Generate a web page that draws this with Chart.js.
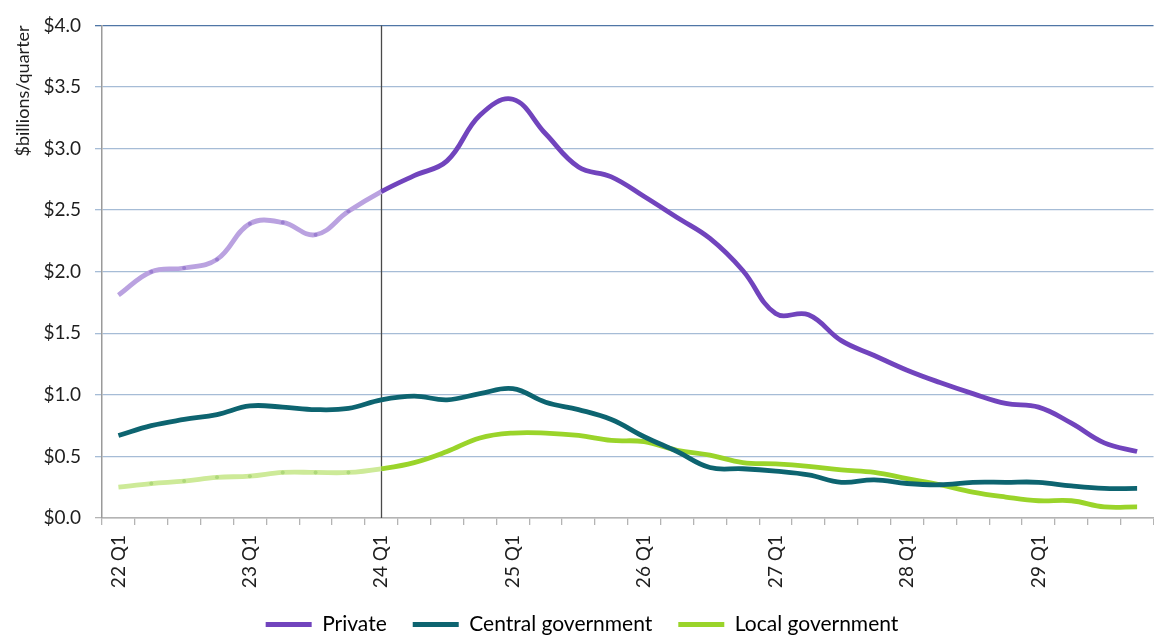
<!DOCTYPE html>
<html>
<head>
<meta charset="utf-8">
<title>Capital expenditure by sector</title>
<script src="https://cdn.jsdelivr.net/npm/chart.js@4.4.0/dist/chart.umd.min.js"></script>
<style>
  html, body { margin: 0; padding: 0; overflow: hidden; background: #fff; }
  #wrap { width: 1170px; height: 645px; }
</style>
</head>
<body>
<div id="wrap"><canvas id="capexChart"></canvas></div>
<script>
// quarterly series, $ billions per quarter
const quarters = [
  '22 Q1','22 Q2','22 Q3','22 Q4','23 Q1','23 Q2','23 Q3','23 Q4',
  '24 Q1','24 Q2','24 Q3','24 Q4','25 Q1','25 Q2','25 Q3','25 Q4',
  '26 Q1','26 Q2','26 Q3','26 Q4','27 Q1','27 Q2','27 Q3','27 Q4',
  '28 Q1','28 Q2','28 Q3','28 Q4','29 Q1','29 Q2','29 Q3','29 Q4'
];
const privateSpend = [1.81,2.00,2.03,2.10,2.39,2.40,2.30,2.49,2.65,2.78,2.90,3.27,3.40,3.12,2.85,2.77,
                      2.61,2.44,2.27,2.01,1.66,1.65,1.44,1.32,1.20,1.10,1.01,0.93,0.90,0.77,0.61,0.54];
const centralGov   = [0.67,0.75,0.80,0.84,0.91,0.90,0.88,0.89,0.96,0.99,0.96,1.01,1.05,0.94,0.88,0.80,
                      0.66,0.54,0.41,0.40,0.38,0.35,0.29,0.31,0.28,0.27,0.29,0.29,0.29,0.26,0.24,0.24];
const localGov     = [0.25,0.28,0.30,0.33,0.34,0.37,0.37,0.37,0.40,0.45,0.54,0.65,0.69,0.69,0.67,0.63,
                      0.62,0.55,0.51,0.45,0.44,0.42,0.39,0.37,0.32,0.27,0.21,0.17,0.14,0.14,0.09,0.09];
const yTicks = [0, 0.5, 1, 1.5, 2, 2.5, 3, 3.5, 4];

// history/forecast split at 24 Q1
const splitIndex = 8;
const FONT = 'Lato, "Open Sans", sans-serif';
const TEXT = '#1e1e1e';

function lineSet(label, data, color, fadedColor, dotColor) {
  return {
    label: label,
    data: data,
    borderColor: color,
    backgroundColor: color,
    borderWidth: 4.8,
    tension: 0.4,
    pointRadius: data.map((v, i) => (fadedColor && i > 0 && i < splitIndex) ? 2 : 0),
    pointBackgroundColor: dotColor || color,
    pointBorderWidth: 0,
    segment: {
      borderColor: ctx => (fadedColor && ctx.p1DataIndex <= splitIndex) ? fadedColor : undefined
    }
  };
}

// thin vertical marker at the start of the forecast period
const markerLine = {
  id: 'markerLine',
  beforeDatasetsDraw(chart) {
    const {ctx, chartArea, scales} = chart;
    const x = Math.round(scales.x.getPixelForValue(splitIndex)) + 0.5;
    ctx.save();
    ctx.strokeStyle = '#4a4a4a';
    ctx.lineWidth = 1.3;
    ctx.beginPath();
    ctx.moveTo(x, chartArea.top);
    ctx.lineTo(x, chartArea.bottom);
    ctx.stroke();
    ctx.restore();
  }
};

new Chart(document.getElementById('capexChart'), {
  type: 'line',
  data: {
    labels: quarters,
    datasets: [
      lineSet('Private', privateSpend, '#7144bd', '#baa2e0', '#9b7fd0'),
      lineSet('Central government', centralGov, '#0d6470'),
      lineSet('Local government', localGov, '#9ad42a', '#cdea98', '#aed87a')
    ]
  },
  options: {
    responsive: true,
    maintainAspectRatio: false,
    animation: false,
    layout: { padding: { top: 25, right: 6, left: 0, bottom: 0 } },
    plugins: {
      tooltip: { enabled: false },
      legend: {
        position: 'bottom',
        labels: {
          boxWidth: 46,
          boxHeight: 5,
          padding: 26,
          color: TEXT,
          font: { family: FONT, size: 21 },
          generateLabels: chart => chart.data.datasets.map((ds, i) => ({
            text: ds.label,
            fillStyle: ds.borderColor,
            strokeStyle: ds.borderColor,
            lineWidth: 0,
            hidden: false,
            datasetIndex: i
          }))
        }
      }
    },
    scales: {
      x: {
        offset: true,
        grid: {
          offset: true,
          drawOnChartArea: false,
          tickLength: 7,
          color: '#b4b4b4',
          lineWidth: 1.3
        },
        border: { color: '#b4b4b4', width: 1.5 },
        ticks: {
          autoSkip: false,
          minRotation: 90,
          maxRotation: 90,
          padding: 10,
          color: TEXT,
          font: { family: FONT, size: 19 },
          callback: (v, i) => (i % 4 === 0 ? quarters[i] : '')
        },
        afterFit: scale => { scale.height = 70; }
      },
      y: {
        min: 0,
        max: 4,
        afterBuildTicks: scale => { scale.ticks = yTicks.map(v => ({ value: v })); },
        ticks: {
          padding: 14,
          color: TEXT,
          font: { family: FONT, size: 19 },
          callback: v => '$' + Number(v).toFixed(1)
        },
        grid: {
          tickLength: 7,
          lineWidth: 1.3,
          color: ctx => {
            const v = ctx.tick ? ctx.tick.value : null;
            if (v === 0) return '#b4b4b4';
            if (v === 4) return '#4f76a6';
            return '#a6bcd6';
          }
        },
        border: { color: '#9a9a9a', width: 1.5 },
        title: {
          display: true,
          text: '$billions/quarter',
          align: 'end',
          color: TEXT,
          font: { family: FONT, size: 18 },
          padding: { top: 12, bottom: 0 }
        },
        afterFit: scale => { scale.width = 102; }
      }
    }
  },
  plugins: [markerLine]
});
</script>
</body>
</html>
